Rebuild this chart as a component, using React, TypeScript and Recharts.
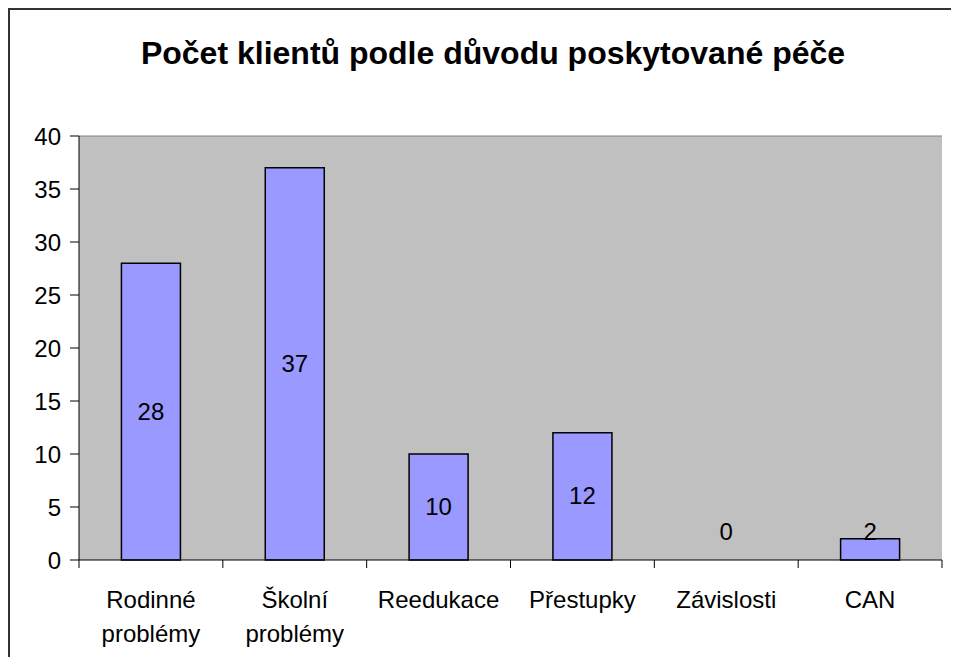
import { ComposedChart, Bar, Line, XAxis, YAxis, CartesianGrid, ReferenceLine } from "recharts";

const categories = ["Rodinné problémy", "Školní problémy", "Reedukace", "Přestupky", "Závislosti", "CAN"];
const clients = [28, 37, 10, 12, 0, 2];
const yTicks = [0, 5, 10, 15, 20, 25, 30, 35, 40];

const data = categories.map((name, i) => ({ name, clients: clients[i] }));

const W = 951;
const H = 649;
const margin = { top: 128, right: 17, bottom: 37, left: 11 };
const yAxisWidth = 60;
const plotLeft = margin.left + yAxisWidth;
const plotRight = W - margin.right;
const plotBottom = H - margin.bottom - 60;
const band = (plotRight - plotLeft) / categories.length;
const font = "'Liberation Sans', Arial, sans-serif";
const fs = 24;

function XTick(props: any) {
  const { x, y, payload, index } = props;
  const words = String(payload.value).split(" ");
  const left = x - band / 2;
  return (
    <g>
      <line x1={left} y1={y - 8} x2={left} y2={y} stroke="#000" />
      {index === categories.length - 1 && (
        <line x1={left + band} y1={y - 8} x2={left + band} y2={y} stroke="#000" />
      )}
      {words.map((w, i) => (
        <text
          key={i}
          x={x}
          y={y + 40 + i * 34}
          textAnchor="middle"
          fontSize={fs}
          fontFamily={font}
          fill="#000"
        >
          {w}
        </text>
      ))}
    </g>
  );
}

function ValueLabel(props: any) {
  const { x, y, value } = props;
  const cy = Math.min((y + plotBottom) / 2, plotBottom - 28);
  return (
    <text x={x} y={cy} dy={8} textAnchor="middle" fontSize={fs} fontFamily={font} fill="#000">
      {value}
    </text>
  );
}

export default function App() {
  return (
    <div style={{ position: "relative", width: W, height: H, overflow: "hidden" }}>
      <div
        style={{
          position: "absolute",
          left: 0,
          top: 0,
          width: W + 10,
          height: H + 10,
          borderLeft: "2px solid #333",
          borderTop: "2px solid #333",
          boxSizing: "border-box",
        }}
      />
      <div
        style={{
          position: "absolute",
          left: 0,
          top: 27,
          width: 970,
          textAlign: "center",
          fontFamily: font,
          fontWeight: "bold",
          fontSize: 32,
          color: "#000",
          whiteSpace: "nowrap",
        }}
      >
        Počet klientů podle důvodu poskytované péče
      </div>
      <div style={{ position: "absolute", left: 0, top: 0 }}>
        <ComposedChart width={W} height={H} data={data} margin={margin} barCategoryGap="29.5%">
          <CartesianGrid fill="#C0C0C0" horizontal={false} vertical={false} />
          <ReferenceLine y={40} stroke="#808080" />
          <XAxis
            dataKey="name"
            height={60}
            interval={0}
            tickLine={false}
            axisLine={{ stroke: "#000" }}
            tick={<XTick />}
          />
          <YAxis
            width={yAxisWidth}
            domain={[0, 40]}
            ticks={yTicks}
            interval={0}
            tickSize={9}
            tickMargin={9}
            axisLine={{ stroke: "#000" }}
            tickLine={{ stroke: "#000" }}
            tick={{ fontSize: fs, fontFamily: font, fill: "#000" }}
          />
          <Bar dataKey="clients" fill="#9999FF" stroke="#000" strokeWidth={1.5} isAnimationActive={false} />
          <Line
            dataKey="clients"
            stroke="none"
            dot={false}
            activeDot={false}
            legendType="none"
            label={<ValueLabel />}
            isAnimationActive={false}
          />
        </ComposedChart>
      </div>
    </div>
  );
}
